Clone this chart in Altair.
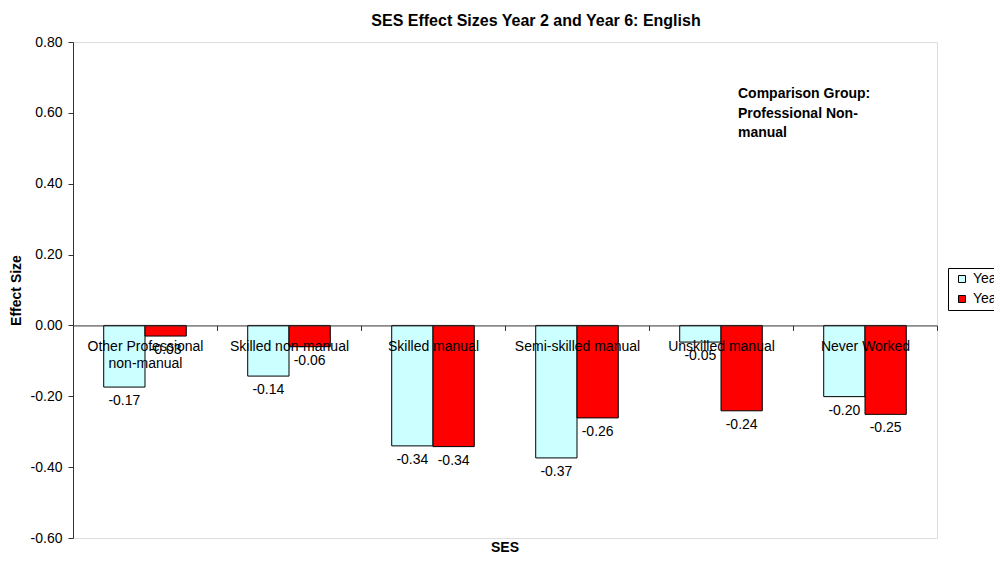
import altair as alt
import pandas as pd

categories = ["Other Professional non-manual", "Skilled non-manual", "Skilled manual",
              "Semi-skilled manual", "Unskilled manual", "Never Worked"]
series = ["Year 2", "Year 6"]
year2 = [-0.174, -0.143, -0.340, -0.374, -0.047, -0.201]
year6 = [-0.030, -0.060, -0.342, -0.261, -0.241, -0.251]
y_ticks = [-0.6, -0.4, -0.2, 0.0, 0.2, 0.4, 0.6, 0.8]
colors = ["#CCFFFF", "#FF0000"]
title_text = "SES Effect Sizes Year 2 and Year 6: English"
note_lines = ["Comparison Group:", "Professional Non-", "manual"]

rows = []
for c, a, b in zip(categories, year2, year6):
    rows.append({"SES": c, "Series": "Year 2", "value": a})
    rows.append({"SES": c, "Series": "Year 6", "value": b})
df = pd.DataFrame(rows)

W, H = 864, 496
FONT = "Liberation Sans"
Y_MIN, Y_MAX = -0.6, 0.8
zero_from_bottom = H * (0 - Y_MIN) / (Y_MAX - Y_MIN)

x_enc = alt.X(
    "SES:N", sort=categories,
    scale=alt.Scale(paddingInner=0, paddingOuter=0),
    axis=alt.Axis(
        title=None, orient="bottom", offset=-zero_from_bottom, tickBand="extent",
        labelAngle=0,
        labelExpr="datum.value == 'Other Professional non-manual' ? ['Other Professional', 'non-manual'] : datum.value",
        labelLineHeight=17, tickSize=5, labelPadding=9,
        domainColor="#333333", tickColor="#333333", zindex=1,
        labelFontSize=14, labelFont=FONT, labelColor="black", labelBaseline="top",
    ),
)
xoff = alt.XOffset("Series:N", sort=series,
                   scale=alt.Scale(paddingInner=0, paddingOuter=0.744))
y_enc = alt.Y(
    "value:Q",
    scale=alt.Scale(domain=[Y_MIN, Y_MAX], nice=False, zero=False),
    axis=alt.Axis(
        values=y_ticks, grid=False,
        labelExpr="replace(format(datum.value, '.2f'), '\u2212', '-')",
        title="Effect Size",
        tickSize=5, labelPadding=6, domainColor="#333333", tickColor="#333333",
        labelFontSize=14, labelFont=FONT, labelColor="black",
        titleFontSize=14, titleFont=FONT, titleFontWeight="bold", titleColor="black",
        titleX=-57, titleY=H / 2, titleAngle=270, titleBaseline="middle", titleAlign="center",
    ),
)

bars = alt.Chart(df).mark_bar(stroke="black", strokeWidth=1).encode(
    x=x_enc, xOffset=xoff, y=y_enc,
    color=alt.Color(
        "Series:N", sort=series, scale=alt.Scale(domain=series, range=colors),
        legend=alt.Legend(
            title=None, orient="none", legendX=875, legendY=226, direction="vertical",
            symbolType="square", symbolSize=49, symbolStrokeColor="black", symbolStrokeWidth=1,
            symbolOffset=3,
            labelFontSize=14, labelFont=FONT, labelColor="black",
            strokeColor="black", fillColor="white", padding=4, rowPadding=6, labelOffset=4,
        ),
    ),
)

labels = alt.Chart(df).transform_calculate(
    lbl="replace(format(datum.value, '.2f'), '\u2212', '-')"
).mark_text(baseline="middle", dy=14, fontSize=14, font=FONT, color="black").encode(
    x=alt.X("SES:N", sort=categories),
    xOffset=alt.XOffset("Series:N", sort=series),
    y=alt.Y("value:Q"),
    text=alt.Text("lbl:N"),
)

note = alt.Chart(pd.DataFrame({"t": [note_lines]})).mark_text(
    align="left", baseline="top", fontSize=14, font=FONT, fontWeight="bold",
    color="black", lineHeight=19.5,
).encode(x=alt.value(665), y=alt.value(45), text="t")

title = alt.Chart(pd.DataFrame({"t": [title_text]})).mark_text(
    align="center", baseline="middle", fontSize=16, font=FONT, fontWeight="bold", color="black",
).encode(x=alt.value(463), y=alt.value(-21), text="t")

xtitle = alt.Chart(pd.DataFrame({"t": ["SES"]})).mark_text(
    align="center", baseline="middle", fontSize=14, font=FONT, fontWeight="bold", color="black",
).encode(x=alt.value(W / 2), y=alt.value(H + 10), text="t")

chart = alt.layer(bars, labels, note, title, xtitle).properties(
    width=W, height=H,
    padding={"left": 65, "top": 34, "right": 57, "bottom": 18},
    autosize=alt.AutoSizeParams(type="none"),
).configure_view(stroke="#555555", strokeWidth=1).configure(background="white")

chart.save("out.html", embed_options={"renderer": "svg", "actions": False})
